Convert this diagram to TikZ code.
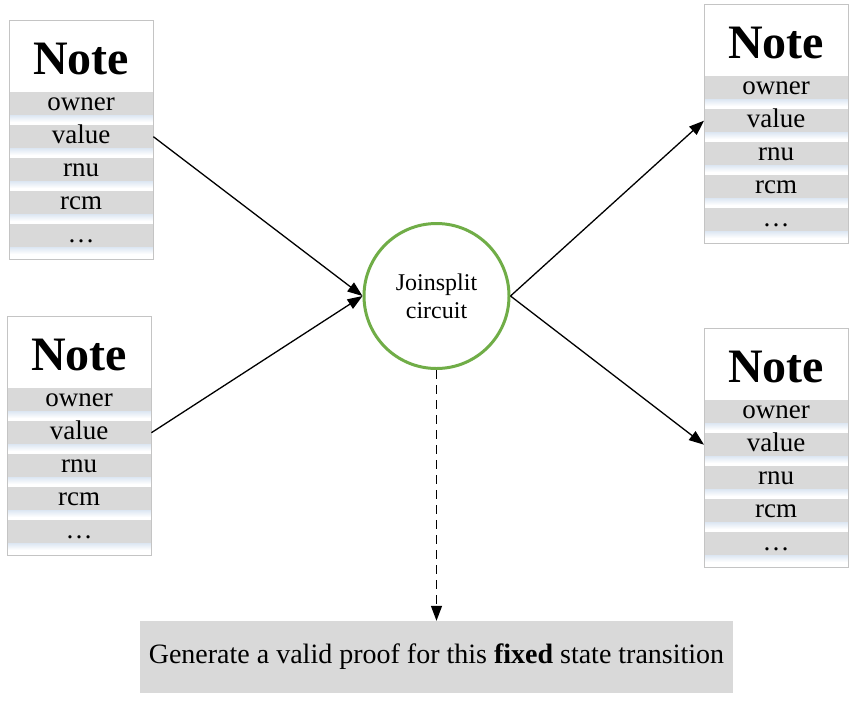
\documentclass[tikz,border=0pt]{standalone}
\usepackage{fontspec}
\setmainfont{Liberation Serif}
\usetikzlibrary{arrows.meta,calc}
\definecolor{RowClr}{HTML}{D9D9D9}
\definecolor{EdgeClr}{HTML}{C4C4C4}
\definecolor{ShadeClr}{HTML}{DCE6F2}
\definecolor{RingClr}{HTML}{70AD47}

\tikzset{
  notebox/.style={draw=EdgeClr,line width=0.8pt},
  notetitle/.style={anchor=base,inner sep=0pt,font=\fontsize{48}{48}\selectfont\bfseries},
  noterow/.style={anchor=north west,fill=RowClr,minimum width=144,minimum height=23,
    inner sep=0pt,text height=18pt,text depth=5pt,font=\fontsize{27}{27}\selectfont},
  flow/.style={line width=1.3pt,-{Triangle[length=15pt,width=11pt]}},
}

% one note: name, left, top
\newcommand{\NoteBox}[3]{%
  \fill[white] (#2,#3) rectangle ++(144,239);
  \node[notetitle] (#1-t) at (#2+72,#3+54) {Note};
  \foreach \lbl [count=\k from 0] in {owner,value,rnu,rcm,\ldots} {
    \shade[top color=ShadeClr,bottom color=white] (#2,#3+95+\k*33) rectangle ++(144,7);
    \node[noterow] (#1-\k) at (#2,#3+72+\k*33) {\lbl};
  }
  \draw[notebox] (#2,#3) rectangle ++(144,239);
}

\begin{document}
\begin{tikzpicture}[x=1pt,y=-1pt]
\fill[white] (0,0) rectangle (856,705);
\useasboundingbox (0,0) rectangle (856,705);

\NoteBox{in1}{9}{20}
\NoteBox{in2}{7}{316}
\NoteBox{out1}{704}{4}
\NoteBox{out2}{704}{328}

\node[draw=RingClr,line width=3pt,circle,minimum size=145,fill=white,align=center,
  font=\fontsize{24}{28}\selectfont] (jc) at (436.5,296) {Joinsplit\\circuit};

\node[fill=RowClr,minimum width=593,minimum height=72,
  font=\fontsize{28}{30}\selectfont] (proof) at (436.5,657)
  {Generate a valid proof for this \textbf{fixed} state transition};

\draw[flow] (in1-1.east) -- (jc.west);
\draw[flow] (in2-1.east) -- (jc.west);
\draw[flow] (jc.east) -- (out1-1.west);
\draw[flow] (jc.east) -- (out2-1.west);
\draw[flow,dash pattern=on 9pt off 6pt] (jc.south) -- (proof.north);

\end{tikzpicture}
\end{document}
